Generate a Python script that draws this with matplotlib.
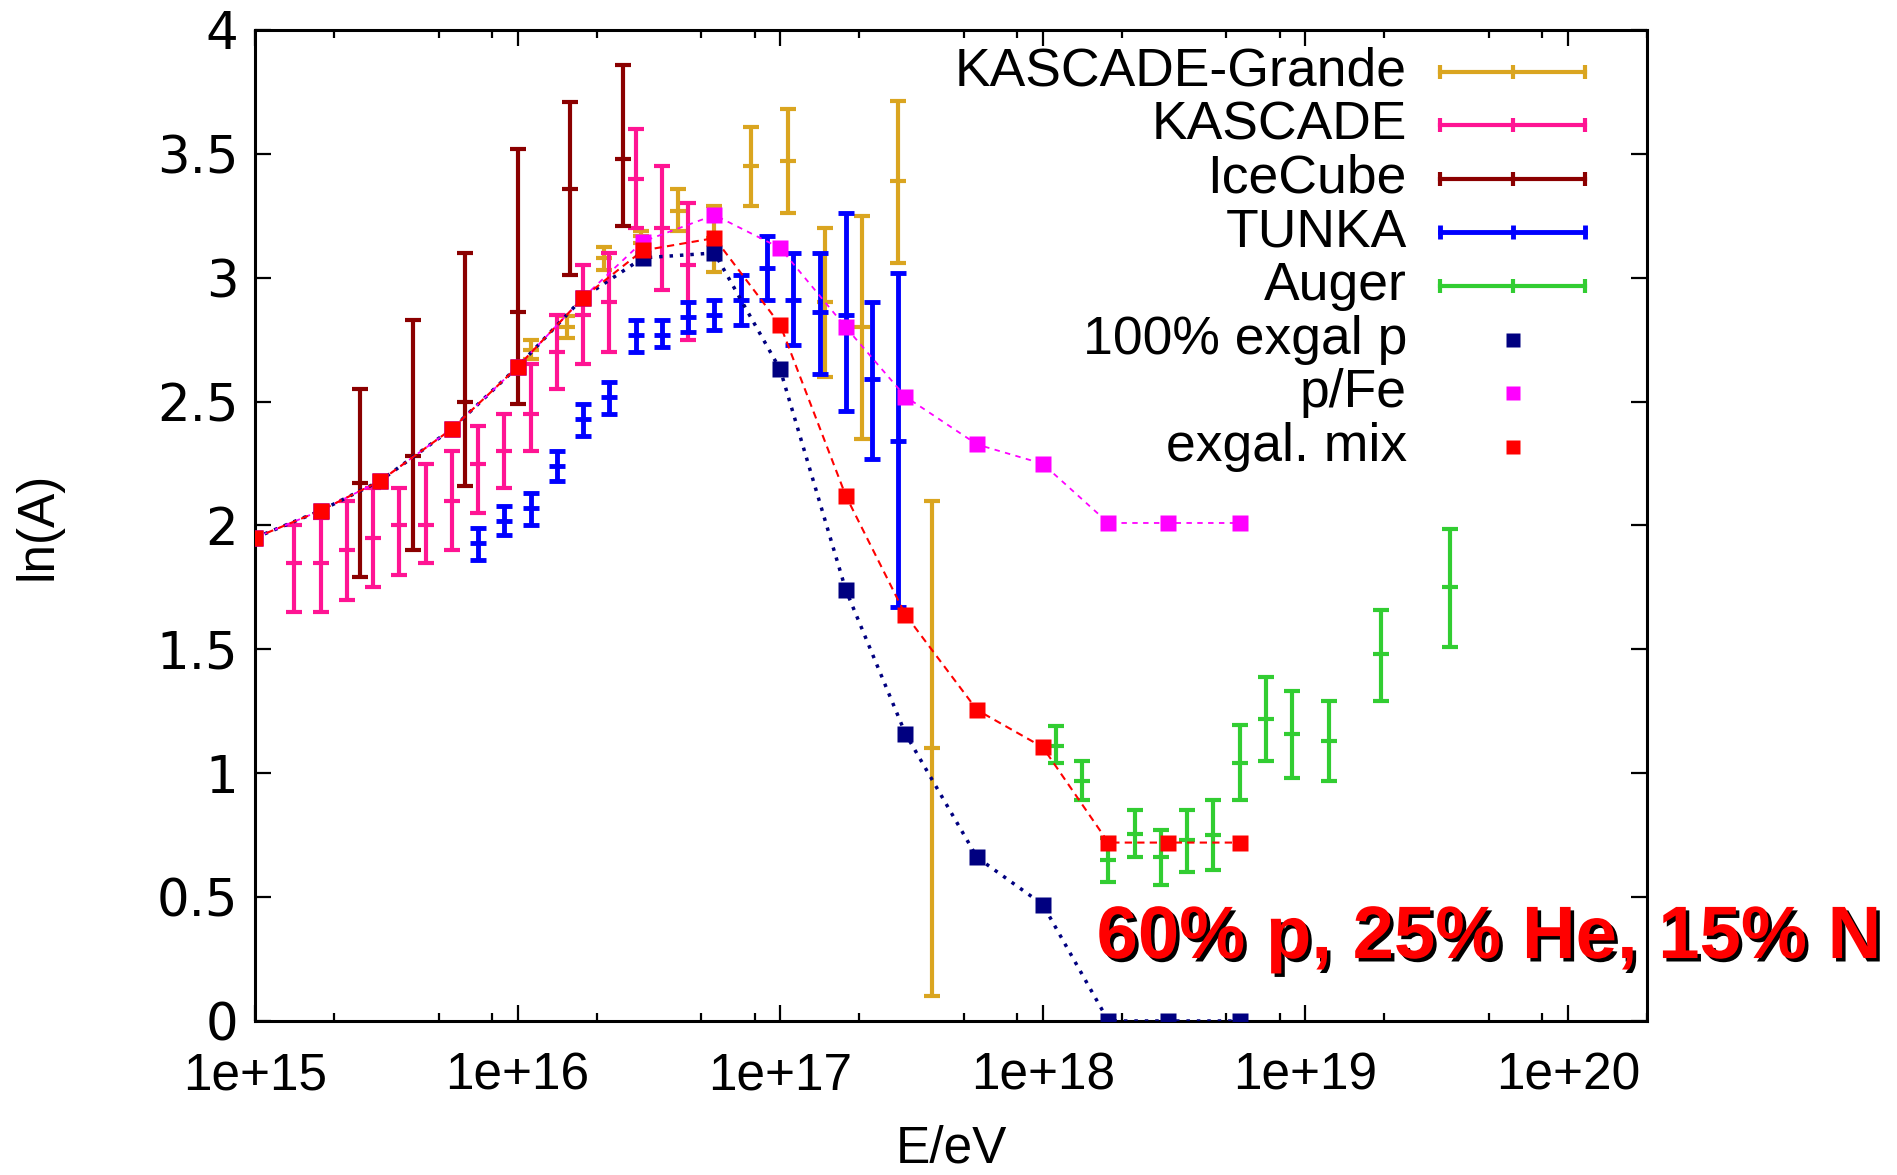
import numpy as np
import matplotlib
matplotlib.use("Agg")
import matplotlib.pyplot as plt
import matplotlib.patheffects as pe
from matplotlib.ticker import FixedLocator, FixedFormatter, LogLocator, NullFormatter

plt.rcParams['font.family'] = ['Liberation Sans', 'DejaVu Sans']

# ---- measurements: log10(E/eV), ln(A) central value, lower and upper edge ----
grande_lg = [16.05, 16.19, 16.33, 16.47, 16.61, 16.75, 16.89, 17.03, 17.17, 17.31, 17.45, 17.58]
grande_c = [2.71, 2.80, 3.08, 3.17, 3.27, 3.16, 3.45, 3.47, 2.90, 2.80, 3.39, 1.10]
grande_lo = [2.67, 2.755, 3.03, 3.14, 3.19, 3.025, 3.29, 3.26, 2.60, 2.35, 3.06, 0.10]
grande_hi = [2.75, 2.845, 3.125, 3.19, 3.36, 3.29, 3.61, 3.68, 3.20, 3.25, 3.715, 2.10]

kascade_lg = [15.15, 15.25, 15.35, 15.45, 15.55, 15.65, 15.75, 15.85,
              15.95, 16.05, 16.15, 16.25, 16.35, 16.45, 16.55, 16.65]
kascade_c = [1.85, 1.85, 1.90, 1.95, 2.00, 2.00, 2.10, 2.25, 2.30, 2.45, 2.70, 2.85, 2.90, 3.40, 3.20, 3.05]
kascade_lo = [1.65, 1.65, 1.70, 1.75, 1.80, 1.85, 1.90, 2.05, 2.15, 2.30, 2.55, 2.65, 2.70, 3.20, 2.95, 2.75]
kascade_hi = [2.00, 2.03, 2.10, 2.15, 2.15, 2.25, 2.30, 2.40, 2.45, 2.65, 2.85, 3.05, 3.10, 3.60, 3.45, 3.30]

icecube_lg = [15.40, 15.60, 15.80, 16.00, 16.20, 16.40]
icecube_c = [2.17, 2.28, 2.50, 2.86, 3.36, 3.48]
icecube_lo = [1.79, 1.90, 2.16, 2.49, 3.01, 3.21]
icecube_hi = [2.55, 2.83, 3.10, 3.52, 3.71, 3.86]

tunka_lg = [15.85, 15.95, 16.05, 16.15, 16.25, 16.35, 16.45, 16.55, 16.65,
            16.75, 16.85, 16.95, 17.05, 17.15, 17.25, 17.35, 17.45]
tunka_c = [1.93, 2.02, 2.07, 2.24, 2.43, 2.52, 2.77, 2.77, 2.84, 2.85, 2.91, 3.04, 2.91, 2.86, 2.85, 2.59, 2.34]
tunka_lo = [1.86, 1.96, 2.00, 2.18, 2.36, 2.45, 2.70, 2.72, 2.78, 2.79, 2.81, 2.91, 2.73, 2.61, 2.46, 2.27, 1.67]
tunka_hi = [1.99, 2.08, 2.13, 2.30, 2.49, 2.58, 2.83, 2.83, 2.90, 2.91, 3.01, 3.17, 3.10, 3.10, 3.26, 2.90, 3.02]

auger_lg = [18.05, 18.15, 18.25, 18.35, 18.45, 18.55, 18.65, 18.75, 18.85, 18.95, 19.09, 19.29, 19.55]
auger_c = [1.11, 0.97, 0.65, 0.755, 0.66, 0.73, 0.75, 1.04, 1.22, 1.16, 1.13, 1.48, 1.75]
auger_lo = [1.04, 0.89, 0.56, 0.66, 0.55, 0.60, 0.61, 0.89, 1.05, 0.98, 0.97, 1.29, 1.51]
auger_hi = [1.19, 1.05, 0.74, 0.85, 0.77, 0.85, 0.89, 1.195, 1.39, 1.33, 1.29, 1.66, 1.985]

# ---- model curves ----
model_lg = [15.0, 15.25, 15.477, 15.75, 16.0, 16.25, 16.477, 16.75,
            17.0, 17.25, 17.477, 17.75, 18.0, 18.25, 18.477, 18.75]
exgal_p = [1.95, 2.06, 2.18, 2.39, 2.64, 2.92, 3.08, 3.10, 2.63, 1.74, 1.16, 0.66, 0.47, 0.0, 0.0, 0.0]
p_fe = [1.95, 2.06, 2.18, 2.39, 2.64, 2.92, 3.146, 3.253, 3.12, 2.80, 2.52, 2.327, 2.249, 2.01, 2.01, 2.01]
exgal_mix = [1.95, 2.06, 2.18, 2.39, 2.64, 2.92, 3.11, 3.16, 2.81, 2.12, 1.64, 1.255, 1.105, 0.72, 0.72, 0.72]

x_ticks = [1e15, 1e16, 1e17, 1e18, 1e19, 1e20]
x_ticklabels = ['1e+15', '1e+16', '1e+17', '1e+18', '1e+19', '1e+20']
y_ticks = [0, 0.5, 1, 1.5, 2, 2.5, 3, 3.5, 4]
y_ticklabels = ['0', '0.5', '1', '1.5', '2', '2.5', '3', '3.5', '4']

datasets = [
    ('KASCADE-Grande', '#DAA520', 3.0, grande_lg, grande_c, grande_lo, grande_hi),
    ('KASCADE', '#FF1493', 3.0, kascade_lg, kascade_c, kascade_lo, kascade_hi),
    ('IceCube', '#8B0000', 3.0, icecube_lg, icecube_c, icecube_lo, icecube_hi),
    ('TUNKA', '#0000FF', 3.5, tunka_lg, tunka_c, tunka_lo, tunka_hi),
    ('Auger', '#32CD32', 3.0, auger_lg, auger_c, auger_lo, auger_hi),
]
models = [
    ('100% exgal p', '#000080', exgal_p, 2.5, (1, 2)),
    ('p/Fe', '#FF00FF', p_fe, 1.3, (3, 3)),
    ('exgal. mix', '#FF0000', exgal_mix, 1.5, (3.5, 2.5)),
]

fig = plt.figure(figsize=(18.97, 11.75), dpi=100)
ax = fig.add_axes([0.1344, 0.1311, 0.7338, 0.8434])

CAP = 11.5  # full width of caps and centre ticks, points
for name, col, lw, lg, c, lo, hi in datasets:
    e = 10 ** np.array(lg)
    c = np.array(c)
    yerr = [c - np.array(lo), np.array(hi) - c]
    ax.errorbar(e, c, yerr=yerr, fmt='none', ecolor=col, elinewidth=lw,
                capsize=CAP / 2, capthick=lw, zorder=2)
    ax.plot(e, c, ls='none', marker='_', ms=CAP, mew=lw, color=col, zorder=2)

for name, col, vals, lw, dash in models:
    e = 10 ** np.array(model_lg)
    ax.plot(e, vals, color=col, lw=lw, dashes=dash, zorder=3)
    ax.plot(e, vals, ls='none', marker='s', ms=11, mec='none', mfc=col, zorder=4)

ax.set_xscale('log')
ax.set_xlim(1e15, 2e20)
ax.set_ylim(0, 4)

ax.xaxis.set_major_locator(FixedLocator(x_ticks))
ax.xaxis.set_major_formatter(FixedFormatter(x_ticklabels))
ax.xaxis.set_minor_locator(LogLocator(base=10, subs=(2, 5, 8)))
ax.xaxis.set_minor_formatter(NullFormatter())
ax.yaxis.set_major_locator(FixedLocator(y_ticks))
ax.yaxis.set_major_formatter(FixedFormatter(y_ticklabels))

ax.tick_params(which='both', direction='in', top=True, right=True, width=1.6, colors='black')
ax.tick_params(which='major', length=11.5)
ax.tick_params(which='minor', length=6)
ax.tick_params(axis='x', which='major', labelsize=37, pad=22)
ax.tick_params(axis='y', which='major', labelsize=37, pad=12)
for lab in ax.get_yticklabels():
    lab.set_family('DejaVu Sans')

for s in ax.spines.values():
    s.set_linewidth(2.2)

ax.set_xlabel('E/eV', fontsize=37)
ax.set_ylabel('ln(A)', fontsize=37)
ax.xaxis.set_label_coords(0.5, -0.104)
ax.yaxis.set_label_coords(-0.138, 0.5)

# legend drawn gnuplot style: right aligned labels, sample to the right
row0, step = 0.958, 0.0541
x_txt, x_a, x_b = 0.8276, 0.8513, 0.9555
x_mid = (x_a + x_b) / 2
entries = [(d[0], d[1], d[2], True) for d in datasets] + [(m[0], m[1], 0, False) for m in models]
for i, (name, col, lw, is_err) in enumerate(entries):
    y = row0 - i * step
    ax.text(x_txt, y, name, transform=ax.transAxes, ha='right', va='center',
            fontsize=38.5, color='black')
    if is_err:
        ax.plot([x_a, x_b], [y, y], color=col, lw=lw, transform=ax.transAxes, clip_on=False)
        ax.plot([x_a, x_mid, x_b], [y, y, y], ls='none', marker='|', ms=10, mew=lw,
                color=col, transform=ax.transAxes, clip_on=False)
    else:
        ax.plot([x_mid], [y], ls='none', marker='s', ms=10, mec='none', mfc=col,
                transform=ax.transAxes, clip_on=False)

ax.text(10 ** 18.205, 0.254, '60% p, 25% He, 15% N', fontsize=53.5, fontweight='bold',
        color='#FF0000', ha='left', va='baseline', zorder=6,
        path_effects=[pe.withSimplePatchShadow(offset=(2.5, -2.5), shadow_rgbFace='black', alpha=1.0)])

fig.savefig('out.png', dpi=100)
